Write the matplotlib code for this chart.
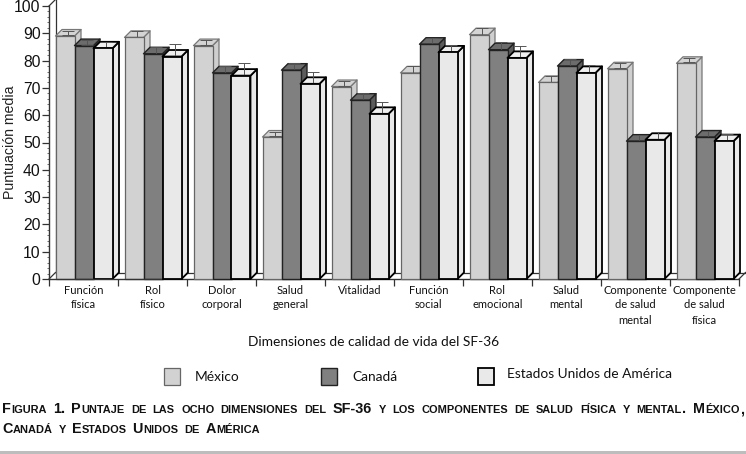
import matplotlib
matplotlib.use("Agg")
import matplotlib.pyplot as plt
from matplotlib.patches import Rectangle
from matplotlib.ticker import MultipleLocator
import numpy as np

categories = ["Función\nfísica", "Rol\nfísico", "Dolor\ncorporal", "Salud\ngeneral", "Vitalidad",
              "Función\nsocial", "Rol\nemocional", "Salud\nmental",
              "Componente\nde salud\nmental", "Componente\nde salud\nfísica"]
series_names = ["México", "Canadá", "Estados Unidos de América"]
mexico = [89, 88.5, 85.5, 52, 70.5, 75.5, 89.5, 72, 77, 79]
canada = [85.5, 82.5, 75.5, 76.5, 65.5, 86, 84, 78, 50.5, 52]
usa = [84.5, 81.5, 74.5, 71.5, 60.5, 83, 81, 75.5, 51, 50.5]
err_mexico = [0.8, 1.0, 0.8, 0.8, 1.0, 1.5, 1.2, 1.2, 1.0, 0.8]
err_canada = [1.0, 1.3, 1.3, 1.3, 1.5, 1.0, 1.8, 1.5, 1.0, 1.2]
err_usa = [1.3, 3.3, 3.3, 3.0, 3.0, 1.5, 3.0, 1.8, 1.8, 1.5]

W, H = 746, 454
fig = plt.figure(figsize=(W / 100, H / 100), dpi=100, facecolor="white")
L, R, T, B = 49, 739, 6, 279
ax = fig.add_axes([L / W, 1 - B / H, (R - L) / W, (B - T) / H])
ax.set_xlim(0, len(categories))
ax.set_ylim(0, 100)
ax.patch.set_visible(False)
for s in ["top", "right"]:
    ax.spines[s].set_visible(False)
for s in ["left", "bottom"]:
    ax.spines[s].set_color("#333333")
    ax.spines[s].set_linewidth(1.0)

dx = 6.5 / 69
dy = 6.5 / 2.73
bar_w = 19 / 69
start = 6.5 / 69

styles = [
    dict(front="#d2d2d2", top="#d4d4d4", side="#cfcfcf", edge="#777777", lw=0.9, frontedge="#666666"),
    dict(front="#808080", top="#6c6c6c", side="#5c5c5c", edge="#222222", lw=1.0, frontedge="#222222"),
    dict(front="#e9e9e9", top="#efefef", side="#e9e9e9", edge="#000000", lw=1.3, frontedge="#000000"),
]

ax.plot([dx, len(categories) + dx], [dy, dy], color="#333333", lw=0.9, zorder=1, clip_on=False)
ax.plot([dx, dx], [dy, 100 + dy], color="#333333", lw=0.9, zorder=1, clip_on=False)
ax.plot([0, dx], [100, 100 + dy], color="#333333", lw=0.9, zorder=1, clip_on=False)
ax.plot([0, dx], [0, dy], color="#333333", lw=0.9, zorder=1, clip_on=False)
ax.plot([len(categories), len(categories) + dx], [0, dy], color="#333333", lw=0.9, zorder=1, clip_on=False)

z = 2.0
for g in range(len(categories)):
    for k, (vals, errs, st) in enumerate(zip([mexico, canada, usa], [err_mexico, err_canada, err_usa], styles)):
        x0 = g + start + k * bar_w
        x1 = x0 + bar_w
        v = vals[g]
        ax.fill([x1, x1 + dx, x1 + dx, x1], [0, dy, v + dy, v], facecolor=st["side"],
                edgecolor=st["edge"], lw=st["lw"], zorder=z, clip_on=False, joinstyle="round")
        ax.fill([x0, x1, x1 + dx, x0 + dx], [v, v, v + dy, v + dy], facecolor=st["top"],
                edgecolor=st["edge"], lw=st["lw"], zorder=z + 0.01, clip_on=False, joinstyle="round")
        ax.errorbar([x0 + bar_w / 2 + dx / 2], [v + dy / 2], yerr=[errs[g]], color="#555555",
                    elinewidth=0.7, capsize=4.5, capthick=0.7, zorder=z + 0.02, clip_on=False)
        ax.bar([x0], [v], width=bar_w, align="edge", color=st["front"], edgecolor=st["frontedge"],
               linewidth=st["lw"], zorder=z + 0.03, clip_on=False)
        z += 0.1

ax.set_xticks(np.arange(len(categories) + 1))
ax.set_xticklabels([])
ax.tick_params(axis="x", length=5, width=0.9, color="#333333")
ax.yaxis.set_major_locator(MultipleLocator(10))
ax.yaxis.set_minor_locator(MultipleLocator(2))
ax.tick_params(axis="y", which="major", length=5, width=0.9, color="#333333", pad=1,
               labelsize=11.3, labelcolor="#111111")
ax.tick_params(axis="y", which="minor", length=1.5, width=0.6, color="#555555")
for t in ax.get_yticklabels():
    t.set_fontfamily("Liberation Sans")

LAB = "Lato"
for g, c in enumerate(categories):
    for i, line in enumerate(c.split("\n")):
        fig.text((L + 69 * (g + 0.5)) / W, 1 - (290 + i * 15) / H, line, ha="center", va="center",
                 fontsize=8.0, family=LAB, color="#111111")

fig.text(10 / W, 1 - 142 / H, "Puntuación media", rotation=90, ha="center", va="center",
         fontsize=10.2, family="Liberation Sans", color="#222222")
fig.text(373.5 / W, 1 - 342 / H, "Dimensiones de calidad de vida del SF-36", ha="center", va="center",
         fontsize=9.9, family=LAB, color="#111111")

swatches = [(164, 368, styles[0]), (321, 368, styles[1]), (478, 368, styles[2])]
for (x, y, st) in swatches:
    fig.add_artist(Rectangle((x / W, 1 - (y + 17) / H), 16 / W, 17 / H, transform=fig.transFigure,
                             facecolor=st["front"], edgecolor=st["frontedge"], lw=st["lw"]))
fig.text(195 / W, 1 - 377 / H, series_names[0], ha="left", va="center", fontsize=9.9, family=LAB, color="#111111")
fig.text(352 / W, 1 - 377 / H, series_names[1], ha="left", va="center", fontsize=9.9, family=LAB, color="#111111")
fig.text(507 / W, 1 - 374 / H, series_names[2], ha="left", va="center", fontsize=9.9, family=LAB, color="#111111")


def small_caps(text, x_px, y_px, target_right=None, big=10.4, small=7.9):
    renderer = fig.canvas.get_renderer()
    words = text.split(" ")

    def layout(space, draw):
        x = x_px
        for w in words:
            i = 0
            while i < len(w):
                j = i
                is_low = w[i].islower()
                while j < len(w) and w[j].islower() == is_low:
                    j += 1
                chunk = w[i:j].upper() if is_low else w[i:j]
                t = fig.text(x / W, 1 - y_px / H, chunk, ha="left", va="baseline",
                             fontsize=small if is_low else big, family="Liberation Sans",
                             fontweight="bold", color="#111111")
                x += t.get_window_extent(renderer).width + 0.3
                if not draw:
                    t.remove()
                i = j
            x += space
        return x - space

    end = layout(0, False)
    layout((target_right - end) / (len(words) - 1), True)


small_caps("Figura 1. Puntaje de las ocho dimensiones del SF-36 y los componentes de salud física y mental. México,",
           2, 413, target_right=744)
small_caps("Canadá y Estados Unidos de América", 2, 433, target_right=260)

fig.add_artist(Rectangle((0, 1 - 454 / H), 1, 3 / H, transform=fig.transFigure, facecolor="#bdbdbd", edgecolor="none"))

fig.savefig("out.png", dpi=100, facecolor="white")
